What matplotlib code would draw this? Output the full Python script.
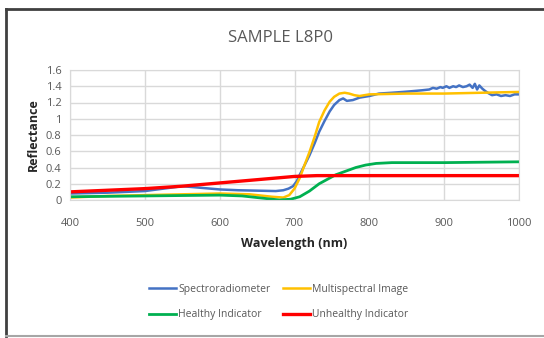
import matplotlib.pyplot as plt
from matplotlib.lines import Line2D

# wavelengths (nm) and reflectance
wl_spec = [400, 450, 500, 525, 550, 575, 600, 625, 650, 675, 685, 692, 698, 703, 707, 713,
           720, 727, 733, 740, 747, 753, 760, 765, 770, 778, 787, 800, 813, 830, 845, 858,
           870, 880, 885, 890, 895, 898, 903, 907, 912, 916, 920, 925, 930, 934, 938, 941,
           944, 947, 951, 955, 960, 964, 970, 976, 982, 988, 994, 1000]
spec = [0.08, 0.09, 0.11, 0.14, 0.17, 0.15, 0.13, 0.12, 0.115, 0.11, 0.12, 0.14, 0.17, 0.23,
        0.31, 0.42, 0.55, 0.70, 0.84, 0.97, 1.09, 1.17, 1.23, 1.25, 1.22, 1.23, 1.26, 1.28,
        1.31, 1.32, 1.33, 1.34, 1.35, 1.36, 1.38, 1.37, 1.39, 1.38, 1.40, 1.38, 1.40, 1.39,
        1.41, 1.39, 1.40, 1.42, 1.38, 1.43, 1.36, 1.41, 1.37, 1.34, 1.31, 1.29, 1.30, 1.28,
        1.29, 1.28, 1.30, 1.30]

wl_multi = [400, 450, 500, 550, 600, 640, 670, 685, 693, 700, 707, 713, 720, 727, 733, 740,
            747, 753, 760, 767, 773, 780, 787, 800, 850, 900, 950, 1000]
multi = [0.03, 0.05, 0.06, 0.07, 0.08, 0.07, 0.04, 0.03, 0.06, 0.14, 0.27, 0.42, 0.59, 0.78,
         0.96, 1.10, 1.21, 1.27, 1.31, 1.32, 1.31, 1.29, 1.28, 1.30, 1.31, 1.31, 1.32, 1.33]

wl_healthy = [400, 450, 500, 550, 600, 630, 660, 680, 695, 707, 720, 733, 745, 755, 770,
              782, 795, 809, 830, 900, 1000]
healthy = [0.04, 0.045, 0.05, 0.055, 0.06, 0.05, 0.02, 0.0, 0.01, 0.04, 0.11, 0.20, 0.26,
           0.31, 0.36, 0.40, 0.43, 0.45, 0.46, 0.46, 0.47]

wl_unhealthy = [400, 450, 500, 550, 600, 650, 700, 730, 760, 800, 900, 1000]
unhealthy = [0.10, 0.12, 0.14, 0.17, 0.21, 0.25, 0.29, 0.30, 0.30, 0.30, 0.30, 0.30]

xticks = [400, 500, 600, 700, 800, 900, 1000]
yticks = [0, 0.2, 0.4, 0.6, 0.8, 1, 1.2, 1.4, 1.6]
ytick_labels = ['0', '0.2', '0.4', '0.6', '0.8', '1', '1.2', '1.4', '1.6']

plt.rcParams['font.family'] = ['Open Sans', 'DejaVu Sans']

fig = plt.figure(figsize=(5.44, 3.38), dpi=100)
ax = fig.add_axes([70 / 544, 1 - 200 / 338, 449 / 544, 130 / 338])

l1, = ax.plot(wl_spec, spec, color='#4472C4', lw=1.8, label='Spectroradiometer')
l2, = ax.plot(wl_multi, multi, color='#FFC000', lw=1.8, label='Multispectral Image')
l3, = ax.plot(wl_healthy, healthy, color='#00B050', lw=2.0, label='Healthy Indicator')
l4, = ax.plot(wl_unhealthy, unhealthy, color='#FF0000', lw=2.4, label='Unhealthy Indicator')

ax.set_xlim(400, 1000)
ax.set_ylim(0, 1.6)
ax.set_xticks(xticks)
ax.set_yticks(yticks)
ax.set_yticklabels(ytick_labels)
ax.grid(True, color='#d9d9d9', lw=1)
ax.set_axisbelow(True)
for s in ax.spines.values():
    s.set_color('#d9d9d9')
ax.tick_params(length=0, labelsize=8, colors='#595959', pad=6)
ax.tick_params(axis='x', pad=13)

ax.set_xlabel('Wavelength (nm)', fontsize=9, fontweight='bold', color='#262626', labelpad=6)
ax.set_ylabel('Reflectance', fontsize=9, fontweight='bold', color='#262626', labelpad=4)

fig.text(280 / 544, 1 - 38 / 338, 'SAMPLE L8P0', ha='center', va='center',
         fontsize=12, color='#595959')

fig.legend([l1, l3, l2, l4],
           [l1.get_label(), l3.get_label(), l2.get_label(), l4.get_label()],
           ncol=2, loc='center', bbox_to_anchor=(279 / 544, 1 - 302 / 338),
           frameon=False, fontsize=7.5, labelcolor='#595959', handlelength=2.6,
           handletextpad=0.2, columnspacing=1.2, labelspacing=1.4)

# outer frame
fig.add_artist(Line2D([6 / 544, 6 / 544], [1 - 336 / 338, 1 - 9 / 338], color='#404040', lw=2))
fig.add_artist(Line2D([6 / 544, 1], [1 - 9 / 338, 1 - 9 / 338], color='#404040', lw=2))
fig.add_artist(Line2D([6 / 544, 1], [1 - 336 / 338, 1 - 336 / 338], color='#a6a6a6', lw=1.5))

fig.savefig('out.png', dpi=100)
